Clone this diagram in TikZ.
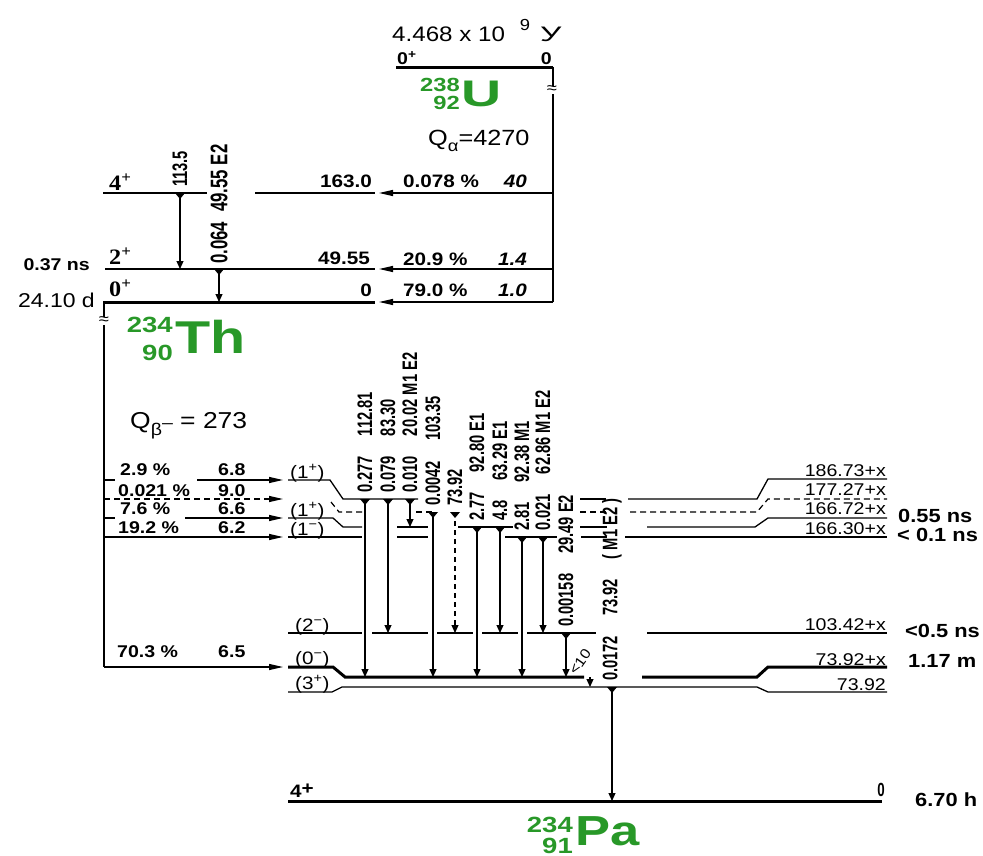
\documentclass[tikz,border=0pt]{standalone}
\usepackage{fontspec}
\setmainfont{Liberation Sans}
\newfontfamily\mfont{Liberation Sans}[FakeStretch=1.15]
\newfontfamily\yfont{Liberation Sans}[FakeStretch=1.6]
\newfontfamily\gfont{Liberation Sans}[FakeStretch=0.7]
\newfontfamily\serfont{Liberation Serif}[FakeStretch=1.1]
\newfontfamily\nucfont{Liberation Sans}[FakeStretch=1.25]
\newfontfamily\ufont{Liberation Sans}[FakeStretch=1.5]
\usetikzlibrary{arrows.meta}
\definecolor{nucgreen}{RGB}{40,152,40}
\newcommand{\fs}[1]{\fontsize{#1}{#1}\selectfont}
\newcommand{\gsp}{\hspace{20pt}}
\newcommand{\gtr}[6]{%
  \fill (#2-5,#3) -- (#2+5,#3) -- (#2,#3+6) -- cycle;
  \draw[#5] (#2,#3) -- (#2,#4);
  \node[glab] (#1) at (#2,#3-6) {#6};}
\tikzset{
  lvl/.style={line width=1.3pt},
  thicklvl/.style={line width=3pt},
  dlvl/.style={line width=1.2pt, dash pattern=on 6pt off 4pt},
  gam/.style={line width=1.1pt, -{Triangle[length=8pt,width=7pt]}},
  gamd/.style={gam, dash pattern=on 5pt off 4pt},
  beta/.style={line width=1.2pt, -{Triangle[length=14pt,width=6pt]}},
  glab/.style={rotate=90, anchor=west, inner sep=0pt, font=\gfont\bfseries\fs{21}},
  txt/.style={inner sep=0pt},
  lt/.style={txt, anchor=base west},
  rt/.style={txt, anchor=base east},
  brk/.style={fill=white, inner sep=0.5pt, font=\mfont\fs{16}},
}
\begin{document}
\mfont
\begin{tikzpicture}[x=1pt,y=-1pt]
\path[fill=white] (0,0) rectangle (983,856);
\useasboundingbox (0,0) rectangle (983,856);

% ---------------- U-238 ----------------
\node[lt, font=\mfont\fs{21}] (uhl) at (392,42) {4.468 x 10\hspace{15pt}\raisebox{11pt}{\fs{16}9}\hspace{10pt}{\yfont У}};
\node[lt, font=\mfont\bfseries\fs{17}] (uspin) at (397,65) {0\textsuperscript{+}};
\node[rt, font=\mfont\bfseries\fs{17}] (uen) at (552,65) {0};
\draw[thicklvl] (396,68) -- (553,68);
\draw[lvl] (553,67) -- (553,302);
\node[brk] (ubrk) at (552,90) {≈};
\node[rt, font=\nucfont\bfseries\fs{19}, text=nucgreen] (ua) at (460,92) {238};
\node[rt, font=\nucfont\bfseries\fs{19}, text=nucgreen] (uz) at (460,110) {92};
\node[lt, font=\ufont\bfseries\fs{37}, text=nucgreen] (usym) at (461,107) {U};
\node[lt, font=\mfont\fs{22}] (qa) at (428,146) {Q\raisebox{-6pt}{\fs{16}α}=4270};

% alpha branches
\draw[beta] (553,193) -- (379,193);
\draw[beta] (553,269) -- (379,269);
\draw[beta] (553,302) -- (379,302);
\node[lt, font=\mfont\bfseries\fs{18}] (a1p) at (403,188) {0.078 \%};
\node[rt, font=\mfont\bfseries\itshape\fs{18}] (a1f) at (527,188) {40};
\node[lt, font=\mfont\bfseries\fs{18}] (a2p) at (403,265) {20.9 \%};
\node[rt, font=\mfont\bfseries\itshape\fs{18}] (a2f) at (527,265) {1.4};
\node[lt, font=\mfont\bfseries\fs{18}] (a3p) at (403,296) {79.0 \%};
\node[rt, font=\mfont\bfseries\itshape\fs{18}] (a3f) at (527,296) {1.0};

% ---------------- Th-234 ----------------
\draw[lvl] (103,193) -- (207,193);
\draw[lvl] (255,193) -- (375,193);
\draw[lvl] (105,269) -- (375,269);
\draw[thicklvl] (103,302) -- (375,302);
\node[rt, font=\mfont\bfseries\fs{18}] (th4e) at (372,188) {163.0};
\node[rt, font=\mfont\bfseries\fs{18}] (th2e) at (370,264) {49.55};
\node[rt, font=\mfont\bfseries\fs{18}] (th0e) at (372,296) {0};
\node[lt, font=\serfont\bfseries\fs{22}] (th4s) at (109,190) {4\textsuperscript{+}};
\node[lt, font=\serfont\bfseries\fs{22}] (th2s) at (109,264) {2\textsuperscript{+}};
\node[lt, font=\serfont\bfseries\fs{22}] (th0s) at (109,296) {0\textsuperscript{+}};
\node[rt, font=\mfont\bfseries\fs{17}] (th2t) at (90,270) {0.37 ns};
\node[rt, font=\mfont\fs{20}] (th0t) at (95,307) {24.10 d};
\gtr{tg1}{180}{193}{269}{gam}{113.5}
\fill (219-5,269) -- (219+5,269) -- (219,269+6) -- cycle;
\draw[gam] (219,269) -- (219,302);
\node[glab, font=\gfont\bfseries\fs{24}] (tg2) at (219,264) {0.064\hspace{10pt}49.55 E2};

\node[rt, font=\nucfont\bfseries\fs{22}, text=nucgreen] (tha) at (173,332) {234};
\node[rt, font=\nucfont\bfseries\fs{22}, text=nucgreen] (thz) at (173,360) {90};
\node[lt, font=\nucfont\bfseries\fs{46}, text=nucgreen] (thsym) at (175,353) {Th};
\node[lt, font=\mfont\fs{23}] (qb) at (130,428) {Q\raisebox{-7pt}{\fs{17}β\raisebox{7pt}{–}} = 273};

% beta feeder line
\draw[lvl] (104,301) -- (104,667);
\node[brk] (thbrk) at (104,321) {≈};
\draw[lvl] (104,480) -- (115,480);
\draw[beta] (197,480) -- (283,480);
\draw[beta, dash pattern=on 6pt off 4pt] (104,499) -- (283,499);
\draw[lvl] (104,518) -- (115,518);
\draw[beta] (185,518) -- (283,518);
\draw[beta] (104,537) -- (283,537);
\draw[beta] (104,667) -- (283,667);
\node[lt, font=\mfont\bfseries\fs{17}] (b1p) at (120,475) {2.9 \%};
\node[lt, font=\mfont\bfseries\fs{17}] (b1f) at (218,475) {6.8};
\node[lt, font=\mfont\bfseries\fs{17}] (b2p) at (118,496) {0.021 \%};
\node[lt, font=\mfont\bfseries\fs{17}] (b2f) at (218,496) {9.0};
\node[lt, font=\mfont\bfseries\fs{17}] (b3p) at (120,514) {7.6 \%};
\node[lt, font=\mfont\bfseries\fs{17}] (b3f) at (218,514) {6.6};
\node[lt, font=\mfont\bfseries\fs{17}] (b4p) at (118,533) {19.2 \%};
\node[lt, font=\mfont\bfseries\fs{17}] (b4f) at (218,533) {6.2};
\node[lt, font=\mfont\bfseries\fs{17}] (b5p) at (117,657) {70.3 \%};
\node[lt, font=\mfont\bfseries\fs{17}] (b5f) at (218,657) {6.5};

% ---------------- Pa-234 levels ----------------
% 186.73
\draw[lvl] (288,480) -- (330,480) -- (343,499) -- (418,499);
\draw[lvl] (580,499) -- (606,499);
\draw[lvl] (628,499) -- (757,499) -- (768,479) -- (887,479);
% 177.27 (dashed)
\draw[dlvl] (331,502) -- (339,512) -- (362,512);
\draw[dlvl] (416,512) -- (433,512);
\draw[dlvl] (580,512) -- (607,512);
\draw[dlvl] (630,512) -- (757,512) -- (768,499) -- (887,499);
% 166.72
\draw[lvl] (288,518) -- (333,518) -- (343,527) -- (362,527);
\draw[lvl] (397,527) -- (428,527);
\draw[lvl] (458,527) -- (513,527);
\draw[lvl] (580,527) -- (607,527);
\draw[lvl] (647,527) -- (755,527) -- (768,518) -- (887,518);
% 166.30
\draw[lvl] (288,537) -- (362,537);
\draw[lvl] (397,537) -- (428,537);
\draw[lvl] (505,537) -- (557,537);
\draw[lvl] (581,537) -- (607,537);
\draw[lvl] (625,537) -- (887,537);
% 103.42
\draw[lvl] (288,633) -- (362,633);
\draw[lvl] (372,633) -- (428,633);
\draw[lvl] (437,633) -- (473,633);
\draw[lvl] (482,633) -- (518,633);
\draw[lvl] (527,633) -- (596,633);
\draw[lvl] (647,633) -- (887,633);
% 73.92+x
\draw[thicklvl] (288,667) -- (333,667) -- (345,677) -- (584,677);
\draw[thicklvl] (642,677) -- (757,677) -- (768,667) -- (887,667);
% 73.92
\draw[lvl] (288,692) -- (332,692) -- (342,687) -- (757,687) -- (768,692) -- (887,692);
% ground
\draw[thicklvl] (288,801) -- (882,801);

% spins
\node[lt, font=\mfont\fs{18}] (s1) at (290,478) {(1\textsuperscript{+})};
\node[lt, font=\mfont\fs{18}] (s2) at (290,516) {(1\textsuperscript{+})};
\node[lt, font=\mfont\fs{18}] (s3) at (290,535) {(1\textsuperscript{−})};
\node[lt, font=\mfont\fs{18}] (s4) at (295,631) {(2\textsuperscript{−})};
\node[lt, font=\mfont\fs{18}] (s5) at (295,664) {(0\textsuperscript{−})};
\node[lt, font=\mfont\fs{18}] (s6) at (295,689) {(3\textsuperscript{+})};
\node[lt, font=\mfont\bfseries\fs{18}] (s7) at (290,797) {4\raisebox{3pt}{+}};

% energies (right)
\node[rt, font=\mfont\fs{17}] (e1) at (886,476) {186.73+x};
\node[rt, font=\mfont\fs{17}] (e2) at (886,495) {177.27+x};
\node[rt, font=\mfont\fs{17}] (e3) at (886,514) {166.72+x};
\node[rt, font=\mfont\fs{17}] (e4) at (886,534) {166.30+x};
\node[rt, font=\mfont\fs{17}] (e5) at (886,630) {103.42+x};
\node[rt, font=\mfont\fs{17}] (e6) at (886,665) {73.92+x};
\node[rt, font=\mfont\fs{17}] (e7) at (886,690) {73.92};
\node[rt, font=\gfont\bfseries\fs{19}] (e8) at (885,796) {0};
\node[lt, font=\mfont\bfseries\fs{19}] (h1) at (898,522) {0.55 ns};
\node[lt, font=\mfont\bfseries\fs{19}] (h2) at (897,541) {< 0.1 ns};
\node[lt, font=\mfont\bfseries\fs{19}] (h3) at (905,637) {<0.5 ns};
\node[lt, font=\mfont\bfseries\fs{19}] (h4) at (908,667) {1.17 m};
\node[lt, font=\mfont\bfseries\fs{19}] (h5) at (915,806) {6.70 h};

% gamma transitions
\gtr{g1}{365}{499}{677}{gam}{0.277\gsp112.81}
\gtr{g2}{388}{499}{633}{gam}{0.079\gsp83.30}
\gtr{g3}{410}{499}{527}{gam}{0.010\gsp20.02 M1 E2}
\gtr{g4}{433}{512}{677}{gam}{0.0042\gsp103.35}
\gtr{g5}{455}{512}{633}{gamd}{73.92}
\gtr{g6}{477}{527}{677}{gam}{2.77\gsp92.80 E1}
\gtr{g7}{500}{527}{633}{gam}{4.8\gsp63.29 E1}
\gtr{g8}{522}{537}{677}{gam}{2.81\gsp92.38 M1}
\gtr{g9}{543}{537}{633}{gam}{0.021\gsp62.86 M1 E2}
\gtr{g10}{566}{633}{677}{gam}{0.00158\gsp29.49 E2}
\draw[gam] (590,677) -- (590,687);
\node[lt, rotate=55, font=\mfont\fs{14}] (g11) at (576,676) {<10};
\gtr{g12}{612}{687}{801}{gam}{0.0172\gsp73.92\gsp( M1 E2 )}

% Pa label
\node[rt, font=\nucfont\bfseries\fs{22}, text=nucgreen] (paa) at (573,832) {234};
\node[rt, font=\nucfont\bfseries\fs{22}, text=nucgreen] (paz) at (573,853) {91};
\node[lt, font=\nucfont\bfseries\fs{42}, text=nucgreen] (pasym) at (575,845) {Pa};
\end{tikzpicture}
\end{document}
